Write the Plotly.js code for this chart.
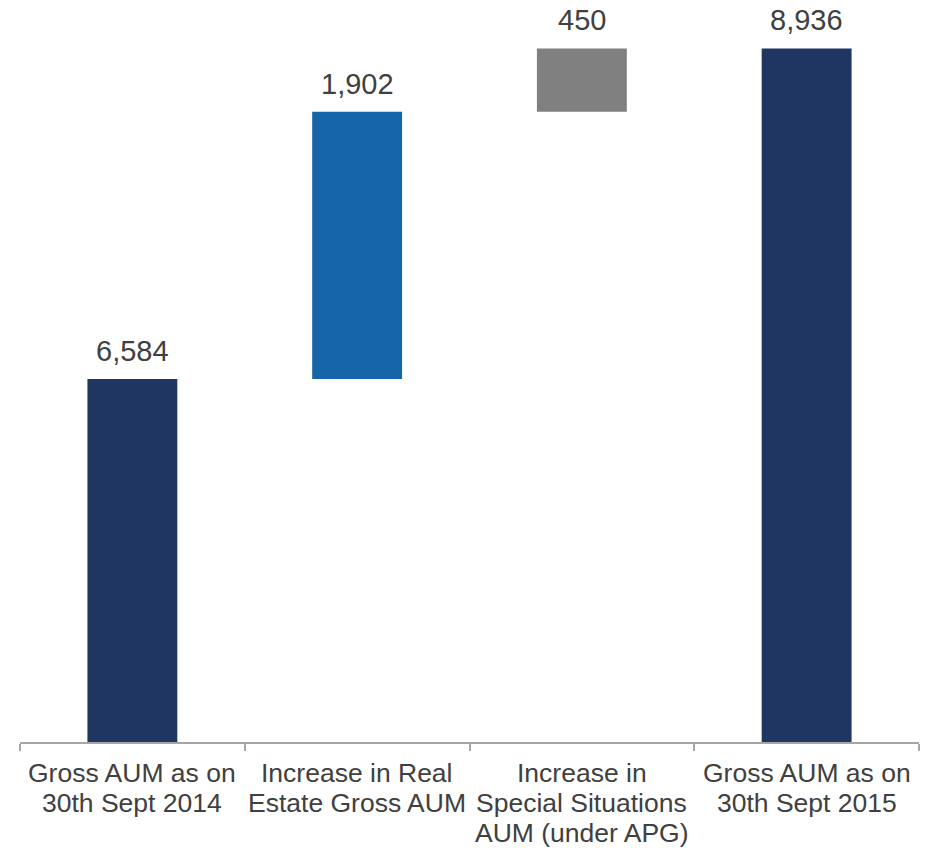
<!DOCTYPE html>
<html>
<head>
<meta charset="utf-8">
<script src="https://cdn.plot.ly/plotly-3.0.1.min.js"></script>
<style>html,body{margin:0;padding:0;background:#fff;}#chart{width:930px;height:848px;}</style>
</head>
<body>
<div id="chart"></div>
<script>
// Data
const categories = ["Gross AUM as on 30th Sept 2014", "Increase in Real Estate Gross AUM", "Increase in Special Situations AUM (under APG)", "Gross AUM as on 30th Sept 2015"];
const categoryLines = [["Gross AUM as on", "30th Sept 2014"], ["Increase in Real", "Estate Gross AUM"], ["Increase in", "Special Situations", "AUM (under APG)"], ["Gross AUM as on", "30th Sept 2015"]];
const values = [6584, 1902, 450, 8936];
const bases = [0, 6584, 8486, 0];
const barColors = ["#1E3661", "#1565A8", "#808080", "#1E3661"];

const tops = values.map((v, i) => v + bases[i]);
const fmt = v => v.toLocaleString("en-US");

const trace = {
  type: "bar",
  x: categories,
  y: values,
  base: bases,
  width: 0.4,
  marker: {color: barColors, line: {width: 0}},
  hoverinfo: "none"
};

const annotations = [];
categories.forEach((c, i) => {
  annotations.push({
    x: c, y: tops[i], xref: "x", yref: "y",
    text: fmt(values[i]), showarrow: false,
    yanchor: "bottom", yshift: 10,
    font: {family: "Liberation Sans, Arial, sans-serif", size: 29, color: "#404040"}
  });
  categoryLines[i].forEach((ln, j) => {
    annotations.push({
      x: c, y: 0, xref: "x", yref: "paper",
      text: ln, showarrow: false,
      yanchor: "middle", yshift: -(31 + j * 30),
      font: {family: "Liberation Sans, Arial, sans-serif", size: 26.5, color: "#404040"}
    });
  });
});

const layout = {
  width: 930, height: 848,
  margin: {l: 20, r: 11, t: 0, b: 106},
  paper_bgcolor: "#ffffff", plot_bgcolor: "#ffffff",
  showlegend: false,
  xaxis: {
    type: "category",
    range: [-0.5, 3.5],
    showticklabels: false,
    ticks: "outside", tickson: "boundaries", ticklen: 7, tickwidth: 2, tickcolor: "#A6A6A6",
    showline: true, linecolor: "#A6A6A6", linewidth: 2,
    showgrid: false, zeroline: false, fixedrange: true
  },
  yaxis: {
    range: [4000, 9281],
    visible: false, showgrid: false, zeroline: false, fixedrange: true
  },
  annotations: annotations
};

Plotly.newPlot("chart", [trace], layout, {displayModeBar: false, staticPlot: true});
</script>
</body>
</html>
